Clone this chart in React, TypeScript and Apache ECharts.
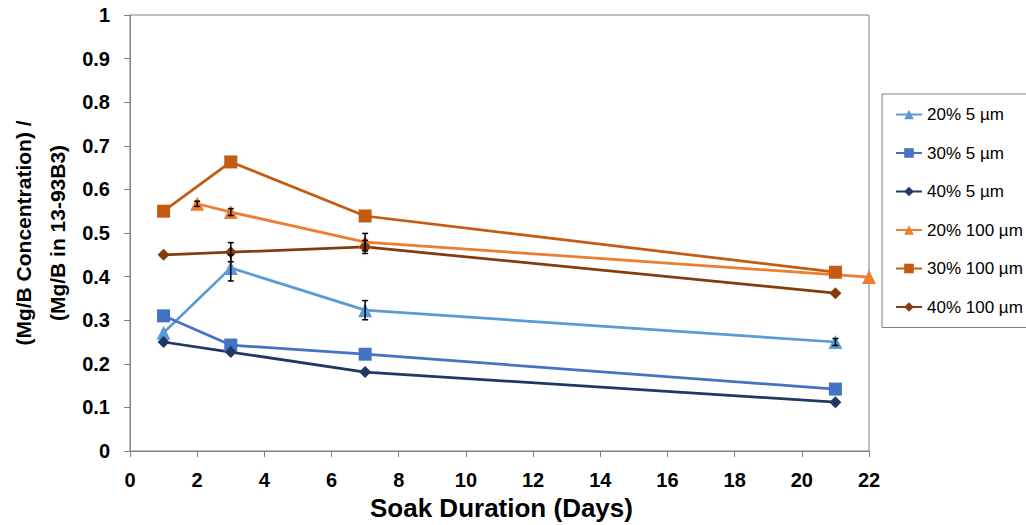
import React, { useEffect, useRef } from "react";
import * as echarts from "echarts";

// ---- data ----
const xTicks = [0, 2, 4, 6, 8, 10, 12, 14, 16, 18, 20, 22];
const seriesNames = ["20% 5 µm", "30% 5 µm", "40% 5 µm", "20% 100 µm", "30% 100 µm", "40% 100 µm"];
const s20_5 = [[1, 0.271], [3, 0.42], [7, 0.323], [21, 0.25]];
const s30_5 = [[1, 0.31], [3, 0.243], [7, 0.222], [21, 0.142]];
const s40_5 = [[1, 0.25], [3, 0.227], [7, 0.181], [21, 0.112]];
const s20_100 = [[2, 0.567], [3, 0.548], [7, 0.479], [22, 0.399]];
const s30_100 = [[1, 0.55], [3, 0.663], [7, 0.539], [21, 0.41]];
const s40_100 = [[1, 0.45], [3, 0.456], [7, 0.468], [21, 0.362]];
// error bars: [day, value, half-width]
const err20_5 = [[3, 0.42, 0.03], [7, 0.323, 0.022], [21, 0.25, 0.008]];
const err20_100 = [[2, 0.567, 0.006], [3, 0.548, 0.008], [7, 0.479, 0.02]];
const err40_100 = [[3, 0.456, 0.022], [7, 0.468, 0.015]];

const colors = ["#5B9BD5", "#4472C4", "#1F3864", "#ED7D31", "#C55A11", "#843C0C"];
const symbols = ["triangle", "rect", "diamond", "triangle", "rect", "diamond"];
const symbolSizes = [14, 13, 12, 14, 13, 12];

export default function App() {
  const ref = useRef<HTMLDivElement>(null);
  useEffect(() => {
    if (!ref.current) return;
    const chart = echarts.init(ref.current, null, { renderer: "svg" });
    const datasets = [s20_5, s30_5, s40_5, s20_100, s30_100, s40_100];
    const lineSeries = datasets.map((d, i) => ({
      name: seriesNames[i],
      type: "line",
      data: d,
      symbol: symbols[i],
      symbolSize: symbolSizes[i],
      showAllSymbol: true,
      lineStyle: { color: colors[i], width: 2.75 },
      itemStyle: { color: colors[i] },
      z: 3,
    }));
    const errData = [...err20_5, ...err20_100, ...err40_100];
    const errSeries = {
      type: "custom",
      z: 5,
      silent: true,
      data: errData,
      encode: { x: 0, y: 1 },
      renderItem: (params: any, api: any) => {
        const x = api.value(0);
        const y = api.value(1);
        const e = api.value(2);
        const top = api.coord([x, y + e]);
        const bot = api.coord([x, y - e]);
        const w = 3;
        const st = { stroke: "#000", lineWidth: 1.5 };
        return {
          type: "group",
          children: [
            { type: "line", shape: { x1: top[0], y1: top[1], x2: bot[0], y2: bot[1] }, style: st },
            { type: "line", shape: { x1: top[0] - w, y1: top[1], x2: top[0] + w, y2: top[1] }, style: st },
            { type: "line", shape: { x1: bot[0] - w, y1: bot[1], x2: bot[0] + w, y2: bot[1] }, style: st },
          ],
        };
      },
    };
    chart.setOption({
      animation: false,
      backgroundColor: "#ffffff",
      grid: {
        left: 130,
        right: 157,
        top: 15,
        bottom: 74,
        show: true,
        borderColor: "#808080",
        borderWidth: 1,
      },
      legend: {
        orient: "vertical",
        left: 882,
        top: 94,
        data: seriesNames,
        itemWidth: 26,
        itemHeight: 12,
        itemGap: 21.5,
        padding: [12, 30, 12, 13],
        borderColor: "#808080",
        borderWidth: 1,
        textStyle: { fontFamily: "Liberation Sans, Arial, sans-serif", fontSize: 17, color: "#000" },
      },
      xAxis: {
        type: "value",
        min: 0,
        max: 22,
        interval: 2,
        axisLine: { show: true, lineStyle: { color: "#808080", width: 1 } },
        axisTick: { show: true, length: 6, lineStyle: { color: "#808080" } },
        splitLine: { show: false },
        axisLabel: {
          margin: 19,
          fontFamily: "Liberation Sans, Arial, sans-serif",
          fontWeight: "bold",
          fontSize: 20,
          color: "#000",
          customValues: xTicks,
        },
      },
      yAxis: {
        type: "value",
        min: 0,
        max: 1,
        interval: 0.1,
        axisLine: { show: true, lineStyle: { color: "#808080", width: 1 } },
        axisTick: { show: true, length: 6, lineStyle: { color: "#808080" } },
        splitLine: { show: false },
        axisLabel: {
          margin: 20,
          fontFamily: "Liberation Sans, Arial, sans-serif",
          fontWeight: "bold",
          fontSize: 20,
          color: "#000",
        },
      },
      graphic: [
        {
          type: "text",
          left: 370,
          top: 495,
          style: {
            text: "Soak Duration (Days)",
            font: "bold 26px 'Liberation Sans', Arial, sans-serif",
            fill: "#000",
          },
        },
        {
          type: "text",
          x: 40,
          y: 233,
          rotation: Math.PI / 2,
          style: {
            text: "(Mg/B Concentration) /\n(Mg/B in 13-93B3)",
            font: "bold 21px 'Liberation Sans', Arial, sans-serif",
            fill: "#000",
            align: "center",
            verticalAlign: "middle",
            lineHeight: 34,
          },
        },
      ],
      series: [...lineSeries, errSeries],
    });
    return () => chart.dispose();
  }, []);
  return <div ref={ref} style={{ width: 1026, height: 525, position: "absolute", left: 0, top: 0 }} />;
}
